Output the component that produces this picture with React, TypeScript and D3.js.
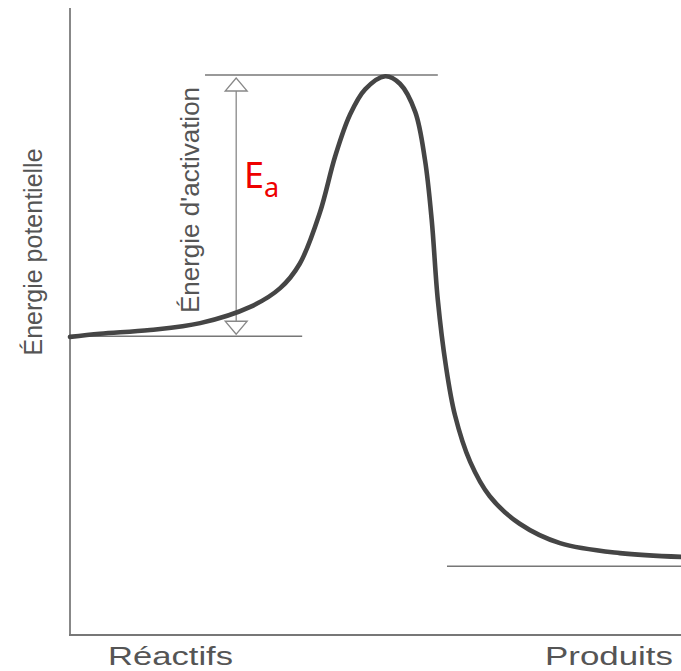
import React from "react";
import * as d3 from "d3";

// Reaction coordinate (0..100) and potential energy (0..100, arbitrary units)
const curveX = [0, 4.9, 13.1, 21.3, 29.5, 34.4, 37.6, 40.9, 43.4, 45.8, 48.3, 51.6, 54.0, 56.5, 58.1, 59.2, 60.2, 61.5, 63.0, 65.5, 68.7, 73.6, 80.2, 90.0, 100];
const curveY = [47.7, 48.2, 48.8, 49.9, 52.5, 55.5, 59.4, 67.6, 76.6, 83.2, 87.3, 89.4, 88.2, 83.7, 76.0, 66.4, 53.6, 43.2, 35.2, 27.7, 22.2, 17.8, 14.7, 13.1, 12.5];

const reactantLevel = 47.8;
const peakLevel = 89.6;
const productLevel = 11.0;

const reactantLineX = [0, 38];
const peakLineX = [22.1, 60.2];
const productLineX = [61.7, 100];
const arrowX = 27.2;

const xLabels = ["Réactifs", "Produits"];
const yLabel = "Énergie potentielle";
const eaLabel = "Énergie d'activation";

const W = 681;
const H = 671;

export default function App() {
  const x = d3.scaleLinear().domain([0, 100]).range([70, 681]);
  const y = d3.scaleLinear().domain([0, 100]).range([635, 10]);

  const pts: [number, number][] = curveX.map((v, i) => [v, curveY[i]]);
  const line = d3
    .line<[number, number]>()
    .x((d) => x(d[0]))
    .y((d) => y(d[1]))
    .curve(d3.curveCatmullRom.alpha(0.5));

  const ax = x(arrowX);
  const yTop = y(peakLevel) + 3;
  const yBot = y(reactantLevel) - 2;
  const hw = 11;
  const hh = 13;
  const font = "'Liberation Sans', Arial, Helvetica, sans-serif";
  const gray = "#777";

  return (
    <svg
      width={W}
      height={H}
      style={{ position: "absolute", left: 0, top: 0, background: "#fff" }}
    >
      {/* axes */}
      <line x1={x(0)} y1={8} x2={x(0)} y2={y(0)} stroke="#888" strokeWidth={2} />
      <line x1={x(0) - 1} y1={y(0)} x2={x(100)} y2={y(0)} stroke="#777" strokeWidth={2} />

      {/* energy levels */}
      <line x1={x(reactantLineX[0])} x2={x(reactantLineX[1])} y1={y(reactantLevel)} y2={y(reactantLevel)} stroke={gray} strokeWidth={1.6} />
      <line x1={x(peakLineX[0])} x2={x(peakLineX[1])} y1={y(peakLevel)} y2={y(peakLevel)} stroke={gray} strokeWidth={1.6} />
      <line x1={x(productLineX[0])} x2={x(productLineX[1])} y1={y(productLevel)} y2={y(productLevel)} stroke={gray} strokeWidth={1.6} />

      {/* activation energy arrow */}
      <line x1={ax} x2={ax} y1={yTop + hh} y2={yBot - hh} stroke="#888" strokeWidth={1.3} />
      <polygon
        points={`${ax},${yTop} ${ax - hw},${yTop + hh} ${ax + hw},${yTop + hh}`}
        fill="#fff"
        stroke="#888"
        strokeWidth={1.3}
      />
      <polygon
        points={`${ax},${yBot} ${ax - hw},${yBot - hh} ${ax + hw},${yBot - hh}`}
        fill="#fff"
        stroke="#888"
        strokeWidth={1.3}
      />

      {/* energy curve */}
      <path d={line(pts) || ""} fill="none" stroke="#454545" strokeWidth={4.6} strokeLinecap="round" />

      {/* labels */}
      <text
        transform={`translate(42, 252) rotate(-90)`}
        textAnchor="middle"
        fontFamily={font}
        fontSize={25}
        fill="#555"
      >
        {yLabel}
      </text>
      <text
        transform={`translate(199, 200) rotate(-90)`}
        textAnchor="middle"
        fontFamily={font}
        fontSize={26}
        fill="#555"
      >
        {eaLabel}
      </text>
      <text x={108} y={665} fontFamily={font} fontSize={25} fill="#555" textLength={125} lengthAdjust="spacingAndGlyphs">
        {xLabels[0]}
      </text>
      <text x={545} y={665} fontFamily={font} fontSize={25} fill="#555" textLength={128} lengthAdjust="spacingAndGlyphs">
        {xLabels[1]}
      </text>

      <text x={244} y={188} fontFamily="'Noto Sans', 'Open Sans', sans-serif" fontSize={36} fill="#ee0000">
        E
        <tspan fontSize={27} dy={9}>a</tspan>
      </text>
    </svg>
  );
}
